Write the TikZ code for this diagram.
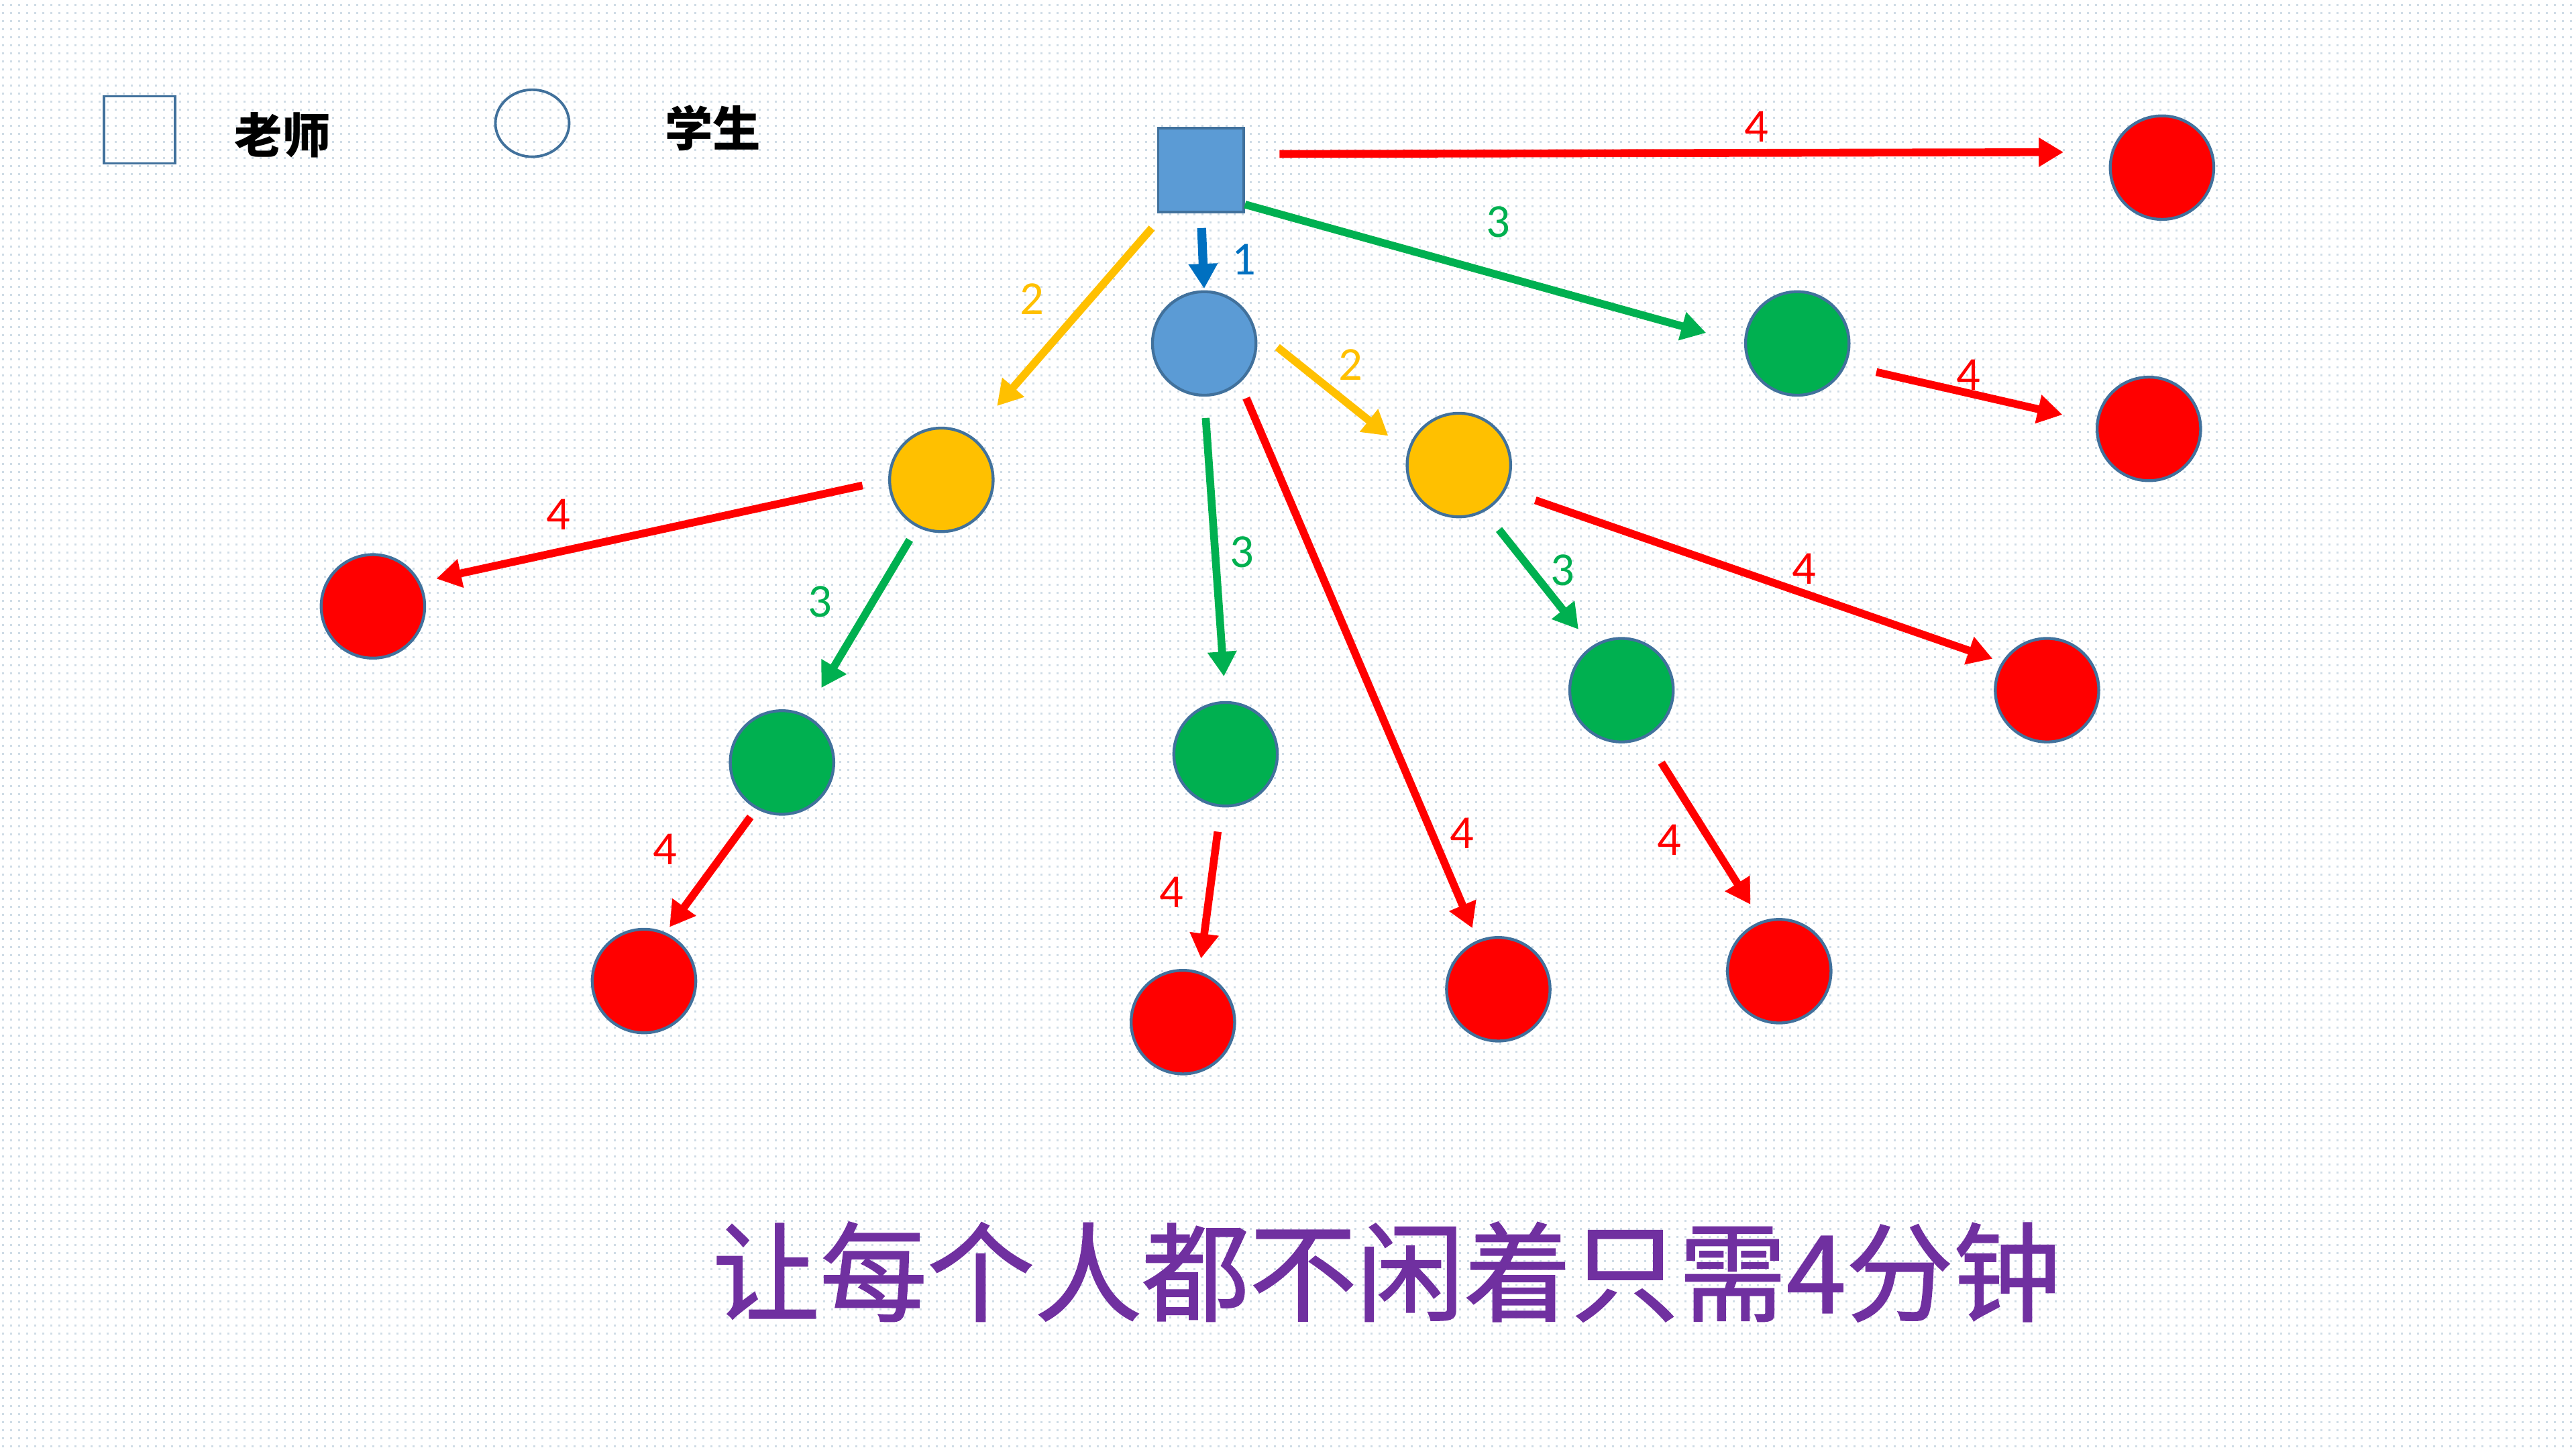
\documentclass[tikz,border=0pt]{standalone}
\usepackage{fontspec}
\setmainfont{Carlito}
\newfontfamily\cjk{Noto Sans CJK SC}
\newfontfamily\cjktitle{Noto Sans CJK SC}[FakeBold=1.3]
\usepackage{tikz}
\usetikzlibrary{arrows.meta, shapes.geometric, patterns.meta}
\usepackage{xcolor}

\definecolor{nodeborder}{HTML}{41719C}
\definecolor{sblue}{HTML}{5B9BD5}
\definecolor{sgreen}{HTML}{00B050}
\definecolor{syellow}{HTML}{FFC000}
\definecolor{sred}{HTML}{FF0000}
\definecolor{darrow}{HTML}{0070C0}
\definecolor{tpurple}{HTML}{7030A0}
\definecolor{dotgray}{HTML}{CFDCE6}

\tikzdeclarepattern{
  name=slidedots,
  type=uncolored,
  bottom left={(0pt,0pt)},
  top right={(1.4pt,1.4pt)},
  tile size={(1.4pt,1.4pt)},
  code={
    \pgfpathrectangle{\pgfpoint{0.52pt}{0.52pt}}{\pgfpoint{0.34pt}{0.34pt}}
    \pgfusepath{fill}
  }
}

\tikzset{
  student/.style={circle, draw=nodeborder, line width=0.5pt, minimum size=0.63cm, inner sep=0pt},
  hop/.style={-{Triangle[length=4.3pt, width=4.8pt]}, line width=1.35pt},
  lbl/.style={font=\fontsize{8.2}{9}\selectfont, inner sep=0pt},
}

\begin{document}
\begin{tikzpicture}
    \useasboundingbox (0,0) rectangle (15.68,8.82);
    \fill[pattern=slidedots, pattern color=dotgray] (0,0) rectangle (15.68,8.82);

    % Legend
    \node[draw=nodeborder, line width=0.45pt, minimum width=0.433cm, minimum height=0.408cm, inner sep=0pt] (keysq) at (0.85,8.03) {};
    \node[font=\cjk\bfseries\fontsize{8.3}{10}\selectfont] (keyteacher) at (1.72,8.00) {老师};
    \node[ellipse, draw=nodeborder, line width=0.45pt, minimum width=0.449cm, minimum height=0.408cm, inner sep=0pt] (keycirc) at (3.24,8.07) {};
    \node[font=\cjk\bfseries\fontsize{8.3}{10}\selectfont] (keystudent) at (4.34,8.04) {学生};

    % Teacher and first student
    \node[draw=nodeborder, fill=sblue, line width=0.45pt, minimum width=0.52cm, minimum height=0.51cm, inner sep=0pt] (sq) at (7.31,7.785) {};
    \node[student, fill=sblue] (A) at (7.33,6.73) {};

    % Students taught in minute 2
    \node[student, fill=syellow] (Y1) at (5.73,5.90) {};
    \node[student, fill=syellow] (Y2) at (8.88,5.99) {};

    % Students taught in minute 3
    \node[student, fill=sgreen] (Gt) at (10.94,6.73) {};
    \node[student, fill=sgreen] (Gl) at (4.76,4.18) {};
    \node[student, fill=sgreen] (Gm) at (7.46,4.23) {};
    \node[student, fill=sgreen] (Gr) at (9.87,4.62) {};

    % Students taught in minute 4
    \node[student, fill=sred] (Rt) at (13.16,7.80) {};
    \node[student, fill=sred] (Rg) at (13.08,6.21) {};
    \node[student, fill=sred] (Rl) at (2.27,5.13) {};
    \node[student, fill=sred] (Rlb) at (3.92,2.85) {};
    \node[student, fill=sred] (Rm) at (7.20,2.60) {};
    \node[student, fill=sred] (Rm2) at (9.12,2.80) {};
    \node[student, fill=sred] (Rrb) at (10.83,2.91) {};
    \node[student, fill=sred] (Rr) at (12.46,4.62) {};

    % Minute 1
    \draw[hop, darrow, line width=1.55pt, shorten <=0.09cm, shorten >=0.01cm] (sq.south) -- (A.north);
    \node[lbl, darrow] (n1) at (7.57,7.24) {1};

    % Minute 2
    \draw[hop, syellow, shorten <=0.12cm, shorten >=0.24cm] (sq.230) -- (Y1.56);
    \draw[hop, syellow, shorten <=0.17cm, shorten >=0.15cm] (A.15) -- (Y2.165);
    \node[lbl, syellow] (n2a) at (6.28,7.00) {2};
    \node[lbl, syellow] (n2b) at (8.22,6.60) {2};

    % Minute 3
    \draw[hop, sgreen, shorten >=0.24cm] (sq.-38) -- (Gt.west);
    \draw[hop, sgreen, shorten <=0.13cm, shorten >=0.15cm] (A.south) -- (Gm.north);
    \draw[hop, sgreen, shorten <=0.09cm, shorten >=0.19cm] (Y1.243) -- (Gl.64);
    \draw[hop, sgreen, shorten <=0.14cm, shorten >=0.13cm] (Y2.299) -- (Gr.124);
    \node[lbl, sgreen] (n3a) at (9.12,7.47) {3};
    \node[lbl, sgreen] (n3b) at (7.56,5.46) {3};
    \node[lbl, sgreen] (n3c) at (4.99,5.16) {3};
    \node[lbl, sgreen] (n3d) at (9.51,5.35) {3};

    % Minute 4
    \draw[hop, sred, shorten <=0.21cm, shorten >=0.29cm] (sq.20) -- (Rt.163);
    \draw[hop, sred, shorten <=0.10cm, shorten >=0.08cm] (A.312) -- (Rm2.113);
    \draw[hop, sred, shorten <=0.19cm, shorten >=0.21cm] (Gt.336) -- (Rg.173);
    \draw[hop, sred, shorten <=0.16cm, shorten >=0.10cm] (Y1.west) -- (Rl.27);
    \draw[hop, sred, shorten <=0.06cm, shorten >=0.04cm] (Gl.241) -- (Rlb.66);
    \draw[hop, sred, shorten <=0.15cm, shorten >=0.08cm] (Gm.265) -- (Rm.72);
    \draw[hop, sred, shorten <=0.19cm, shorten >=0.06cm] (Y2.332) -- (Rr.148);
    \draw[hop, sred, shorten <=0.18cm, shorten >=0.12cm] (Gr.297) -- (Rrb.110);
    \node[lbl, sred] (n4a) at (10.69,8.05) {4};
    \node[lbl, sred] (n4b) at (8.90,3.75) {4};
    \node[lbl, sred] (n4c) at (11.98,6.54) {4};
    \node[lbl, sred] (n4d) at (3.40,5.69) {4};
    \node[lbl, sred] (n4e) at (4.05,3.65) {4};
    \node[lbl, sred] (n4f) at (7.13,3.39) {4};
    \node[lbl, sred] (n4g) at (10.98,5.36) {4};
    \node[lbl, sred] (n4h) at (10.16,3.71) {4};

    % Caption
    \node[font=\cjktitle\fontsize{18.6}{20}\selectfont, text=tpurple] (title) at (8.44,1.08) {让每个人都不闲着只需4分钟};
\end{tikzpicture}
\end{document}
